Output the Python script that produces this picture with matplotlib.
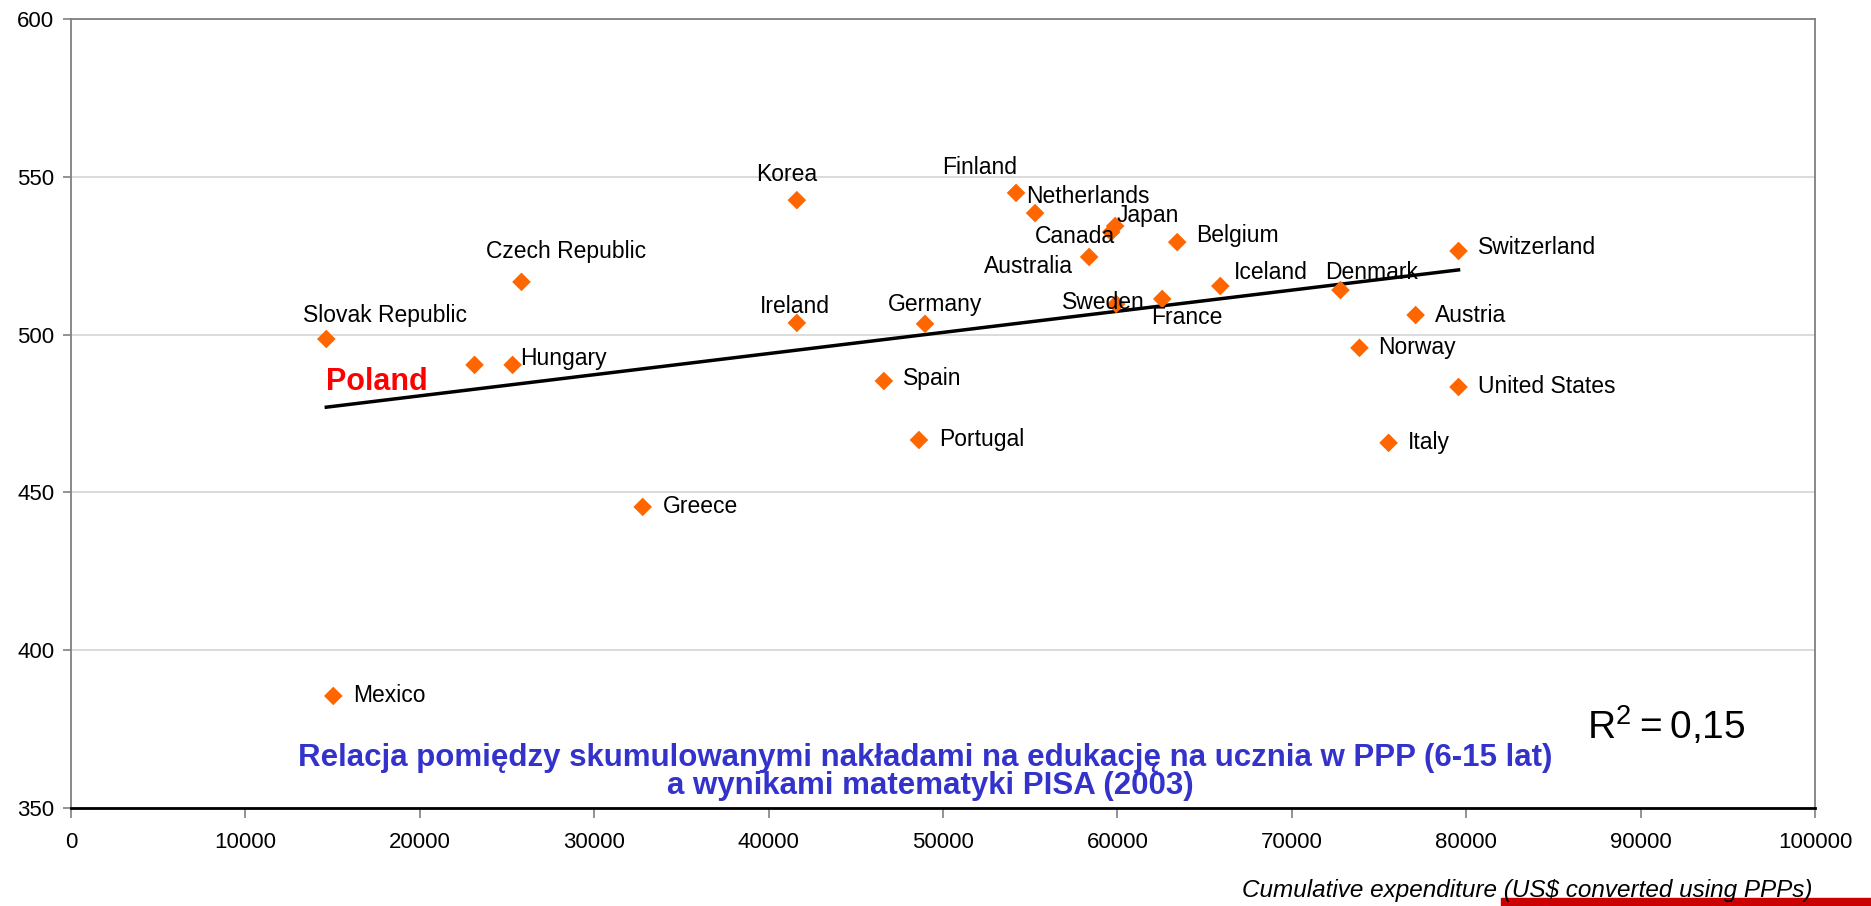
import matplotlib
matplotlib.use("Agg")
import matplotlib.pyplot as plt
from matplotlib.patches import Rectangle

plt.rcParams["font.family"] = ["Liberation Sans", "DejaVu Sans"]

# PISA 2003 maths vs cumulative expenditure per student (6-15)
countries = ["Slovak Republic", "Czech Republic", "Poland", "Hungary", "Korea",
             "Ireland", "Germany", "Spain", "Portugal", "Greece", "Mexico",
             "Finland", "Netherlands", "Japan", "Canada", "Australia", "Belgium",
             "Sweden", "France", "Iceland", "Denmark", "Switzerland", "Austria",
             "Norway", "United States", "Italy"]
expenditure = [14640, 25830, 23140, 25320, 41620,
               41620, 48970, 46610, 48620, 32780, 15040,
               54190, 55280, 59870, 59640, 58380, 63430,
               59930, 62570, 65900, 72790, 79560, 77100,
               73880, 79560, 75550]
score = [498.6, 516.7, 490.4, 490.4, 542.6,
         503.7, 503.4, 485.3, 466.6, 445.4, 385.5,
         544.9, 538.5, 534.4, 532.5, 524.6, 529.3,
         509.7, 511.3, 515.4, 514.1, 526.5, 506.2,
         495.8, 483.4, 465.7]

# trend line end points as drawn
trend_x = [14640, 79560]
trend_y = [477.0, 520.5]

x_ticks = list(range(0, 100001, 10000))
y_ticks = list(range(350, 601, 50))

# label placement: (dx, dy) in pixels from the marker, horizontal alignment
label_pos = {
    "Slovak Republic": (59, 24, "center"),
    "Czech Republic": (45, 30, "center"),
    "Hungary": (8, 6, "left"),
    "Korea": (-10, 26, "center"),
    "Ireland": (-2, 16, "center"),
    "Germany": (10, 19, "center"),
    "Spain": (19, 2, "left"),
    "Portugal": (20, 1, "left"),
    "Greece": (20, 0, "left"),
    "Mexico": (20, 0, "left"),
    "Finland": (-36, 25, "center"),
    "Netherlands": (-9, 17, "left"),
    "Japan": (33, 11, "center"),
    "Canada": (-36, -4, "center"),
    "Australia": (-61, -10, "center"),
    "Belgium": (19, 7, "left"),
    "Sweden": (-13, 1, "center"),
    "France": (25, -19, "center"),
    "Iceland": (14, 13, "left"),
    "Denmark": (31, 18, "center"),
    "Switzerland": (19, 3, "left"),
    "Austria": (19, 0, "left"),
    "Norway": (19, 0, "left"),
    "United States": (19, 0, "left"),
    "Italy": (19, 0, "left"),
}

W, H = 1871, 906
fig = plt.figure(figsize=(W / 100, H / 100), dpi=100)
ax = fig.add_axes([71 / W, 1 - 808 / H, (1815 - 71) / W, (808 - 19) / H])

ax.set_xlim(0, 100000)
ax.set_ylim(350, 600)
ax.set_xticks(x_ticks)
ax.set_yticks(y_ticks)
ax.set_xticklabels([str(v) for v in x_ticks], fontsize=16)
ax.set_yticklabels([str(v) for v in y_ticks], fontsize=16)
ax.tick_params(axis="x", direction="out", length=7, width=1.2, color="#808080", pad=10)
ax.tick_params(axis="y", direction="out", length=6, width=1.2, color="#808080", pad=6)

ax.grid(axis="y", color="#d4d4d4", linewidth=1.2)
ax.set_axisbelow(True)
for side in ["left", "right", "top"]:
    ax.spines[side].set_color("#808080")
    ax.spines[side].set_linewidth(1.3)
ax.spines["bottom"].set_color("black")
ax.spines["bottom"].set_linewidth(2)

ax.plot(trend_x, trend_y, color="black", linewidth=2.5, zorder=2)
ax.scatter(expenditure, score, marker="D", s=90, color="#ff6600",
           edgecolors="none", zorder=3)

for name, x, y in zip(countries, expenditure, score):
    if name not in label_pos:
        continue
    dx, dy, ha = label_pos[name]
    ax.annotate(name, (x, y), xytext=(dx, dy), textcoords="offset pixels",
                ha=ha, va="center", fontsize=16.5, color="black", zorder=4)

pi = countries.index("Poland")
ax.annotate("Poland", (expenditure[pi], score[pi]), xytext=(-149, -17),
            textcoords="offset pixels", ha="left", va="center",
            fontsize=22, fontweight="bold", color="#ff0000", zorder=4)

ax.text(1666 / W, 1 - 725 / H, r"$\mathregular{R^2 = 0{,}15}$", transform=fig.transFigure,
        ha="center", va="center", fontsize=28, color="black")

fig.text(925 / W, 1 - 758 / H,
         "Relacja pomiędzy skumulowanymi nakładami na edukację na ucznia w PPP (6-15 lat)",
         ha="center", va="center", fontsize=22.5, fontweight="bold", color="#3333cc")
fig.text(930 / W, 1 - 786 / H, "a wynikami matematyki PISA (2003)",
         ha="center", va="center", fontsize=22.5, fontweight="bold", color="#3333cc")

fig.text(1813 / W, 1 - 891 / H, "Cumulative expenditure (US$ converted using PPPs)",
         ha="right", va="center", fontsize=17.5, style="italic", color="black")

fig.patches.append(Rectangle((1501 / W, 0), (W - 1501) / W, 8 / H,
                             transform=fig.transFigure, color="#cc0000"))

fig.savefig("out.png", dpi=100)
